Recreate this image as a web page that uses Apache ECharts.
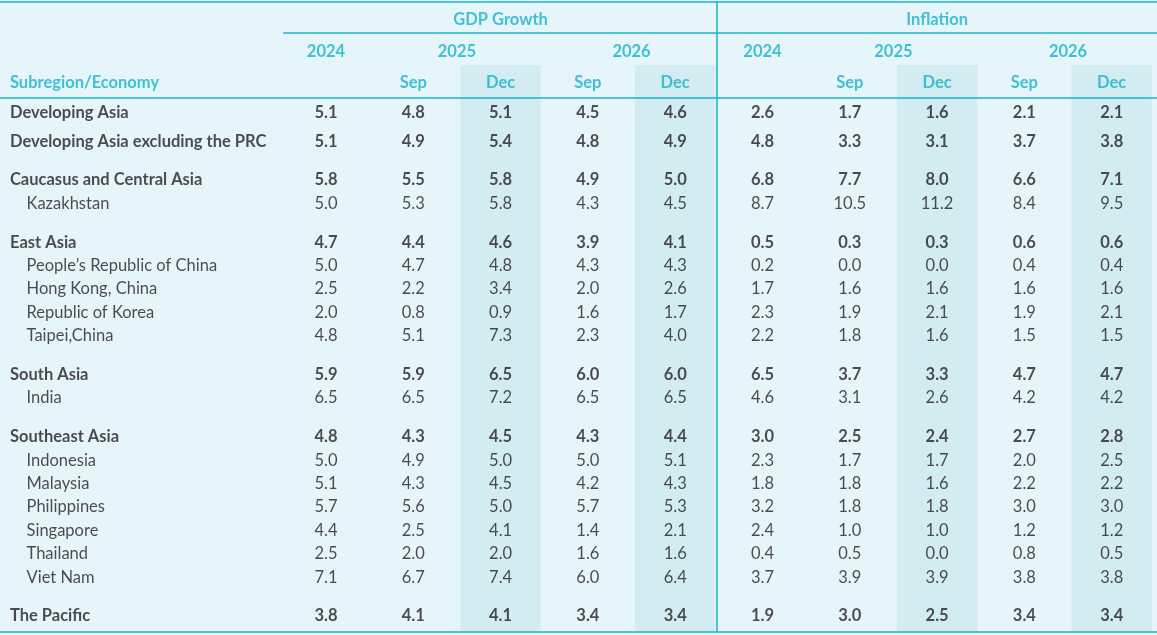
<!DOCTYPE html>
<html>
<head>
<meta charset="utf-8" />
<script src="https://cdn.jsdelivr.net/npm/echarts@6/dist/echarts.min.js"></script>
<style>
  html, body {margin:0;padding:0;background:#e6f5f9;}
  #chart {width:1157px;height:635px;}
</style>
</head>
<body>
<div id="chart"></div>
<script>
// table data
var economies = ['Developing Asia', 'Developing Asia excluding the PRC', 'Caucasus and Central Asia', 'Kazakhstan',
  'East Asia', 'People\u2019s Republic of China', 'Hong Kong, China', 'Republic of Korea', 'Taipei,China',
  'South Asia', 'India', 'Southeast Asia', 'Indonesia', 'Malaysia', 'Philippines', 'Singapore', 'Thailand', 'Viet Nam', 'The Pacific'];
var isSubregion = [1, 1, 1, 0, 1, 0, 0, 0, 0, 1, 0, 1, 0, 0, 0, 0, 0, 0, 1];
var newGroup    = [0, 1, 2, 0, 2, 0, 0, 0, 0, 2, 0, 2, 0, 0, 0, 0, 0, 0, 2]; // 1 small gap, 2 large gap
var gdp2024    = ['5.1','5.1','5.8','5.0','4.7','5.0','2.5','2.0','4.8','5.9','6.5','4.8','5.0','5.1','5.7','4.4','2.5','7.1','3.8'];
var gdp2025Sep = ['4.8','4.9','5.5','5.3','4.4','4.7','2.2','0.8','5.1','5.9','6.5','4.3','4.9','4.3','5.6','2.5','2.0','6.7','4.1'];
var gdp2025Dec = ['5.1','5.4','5.8','5.8','4.6','4.8','3.4','0.9','7.3','6.5','7.2','4.5','5.0','4.5','5.0','4.1','2.0','7.4','4.1'];
var gdp2026Sep = ['4.5','4.8','4.9','4.3','3.9','4.3','2.0','1.6','2.3','6.0','6.5','4.3','5.0','4.2','5.7','1.4','1.6','6.0','3.4'];
var gdp2026Dec = ['4.6','4.9','5.0','4.5','4.1','4.3','2.6','1.7','4.0','6.0','6.5','4.4','5.1','4.3','5.3','2.1','1.6','6.4','3.4'];
var inf2024    = ['2.6','4.8','6.8','8.7','0.5','0.2','1.7','2.3','2.2','6.5','4.6','3.0','2.3','1.8','3.2','2.4','0.4','3.7','1.9'];
var inf2025Sep = ['1.7','3.3','7.7','10.5','0.3','0.0','1.6','1.9','1.8','3.7','3.1','2.5','1.7','1.8','1.8','1.0','0.5','3.9','3.0'];
var inf2025Dec = ['1.6','3.1','8.0','11.2','0.3','0.0','1.6','2.1','1.6','3.3','2.6','2.4','1.7','1.6','1.8','1.0','0.0','3.9','2.5'];
var inf2026Sep = ['2.1','3.7','6.6','8.4','0.6','0.4','1.6','1.9','1.5','4.7','4.2','2.7','2.0','2.2','3.0','1.2','0.8','3.8','3.4'];
var inf2026Dec = ['2.1','3.8','7.1','9.5','0.6','0.4','1.6','2.1','1.5','4.7','4.2','2.8','2.5','2.2','3.0','1.2','0.5','3.8','3.4'];
var columns = [gdp2024, gdp2025Sep, gdp2025Dec, gdp2026Sep, gdp2026Dec, inf2024, inf2025Sep, inf2025Dec, inf2026Sep, inf2026Dec];
var topHeaders = ['GDP Growth', 'Inflation'];
var yearHeaders = ['2024', '2025', '2026'];
var monthHeaders = ['Sep', 'Dec'];
var stubHeader = 'Subregion/Economy';

var teal = '#17b3c9';
var ink = '#231f20';
var font = 'Lato';
var fs = 16.5;

// row positions in row units
var rowY = [];
var y = 0;
economies.forEach(function(e, i) {
  if (i > 0) y += 1 + (newGroup[i] == 1 ? 0.24 : newGroup[i] == 2 ? 0.66 : 0);
  rowY.push(y);
});

var labelX = -3.62, subX = -3.43;
var cells = [];
columns.forEach(function(col, c) {
  col.forEach(function(v, r) {
    cells.push({value: [c, rowY[r], v], label: {fontWeight: isSubregion[r] ? 'bold' : 'normal'}});
  });
});
var names = economies.map(function(e, r) {
  return {value: [isSubregion[r] ? labelX : subX, rowY[r], e], label: {fontWeight: isSubregion[r] ? 'bold' : 'normal'}};
});

var headCells = [];
topHeaders.forEach(function(h, i) { headCells.push({value: [2 + 5 * i, -3.97, h]}); });
[0, 5].forEach(function(o) {
  headCells.push({value: [o, -2.6, yearHeaders[0]]});
  headCells.push({value: [o + 1.5, -2.6, yearHeaders[1]]});
  headCells.push({value: [o + 3.5, -2.6, yearHeaders[2]]});
  [1, 2, 3, 4].forEach(function(k) { headCells.push({value: [o + k, -1.28, monthHeaders[(k - 1) % 2]]}); });
});
headCells.push({value: [labelX, -1.28, stubHeader], label: {position: 'right', distance: 0}});

var chart = echarts.init(document.getElementById('chart'));
var lineStyle = {color: teal, width: 1.5, type: 'solid'};
chart.setOption({
  animation: false,
  grid: {left: 0, right: 0, top: 0, bottom: 0},
  xAxis: {type: 'value', min: -3.734, max: 9.519, show: false},
  yAxis: {type: 'value', min: -4.8, max: 22.35, inverse: true, show: false},
  series: [
    {
      type: 'scatter', symbolSize: 0, data: cells,
      label: {show: true, position: 'inside', formatter: function(p) { return p.value[2]; }, color: ink, fontFamily: font, fontSize: fs},
      markArea: {
        silent: true,
        itemStyle: {color: '#d2ecf1'},
        data: [2, 4, 7, 9].map(function(c) { return [{coord: [c - 0.46, -2.02]}, {coord: [c + 0.46, 22.2]}]; })
      },
      markLine: {
        silent: true, symbol: 'none', label: {show: false}, lineStyle: lineStyle,
        data: [
          [{coord: [-3.734, -4.73]}, {coord: [9.519, -4.73]}],
          [{coord: [-0.49, -3.42]}, {coord: [9.519, -3.42]}],
          [{coord: [-3.734, -0.64]}, {coord: [9.519, -0.64]}],
          [{coord: [-3.734, 22.2]}, {coord: [9.519, 22.2]}],
          [{coord: [4.48, -4.73]}, {coord: [4.48, 22.2]}]
        ]
      }
    },
    {
      type: 'scatter', symbolSize: 0, data: names,
      label: {show: true, position: 'right', distance: 0, formatter: function(p) { return p.value[2]; }, color: ink, fontFamily: font, fontSize: fs}
    },
    {
      type: 'scatter', symbolSize: 0, data: headCells,
      label: {show: true, position: 'inside', formatter: function(p) { return p.value[2]; }, color: teal, fontFamily: font, fontSize: fs, fontWeight: 'bold'}
    }
  ]
});
</script>
</body>
</html>
